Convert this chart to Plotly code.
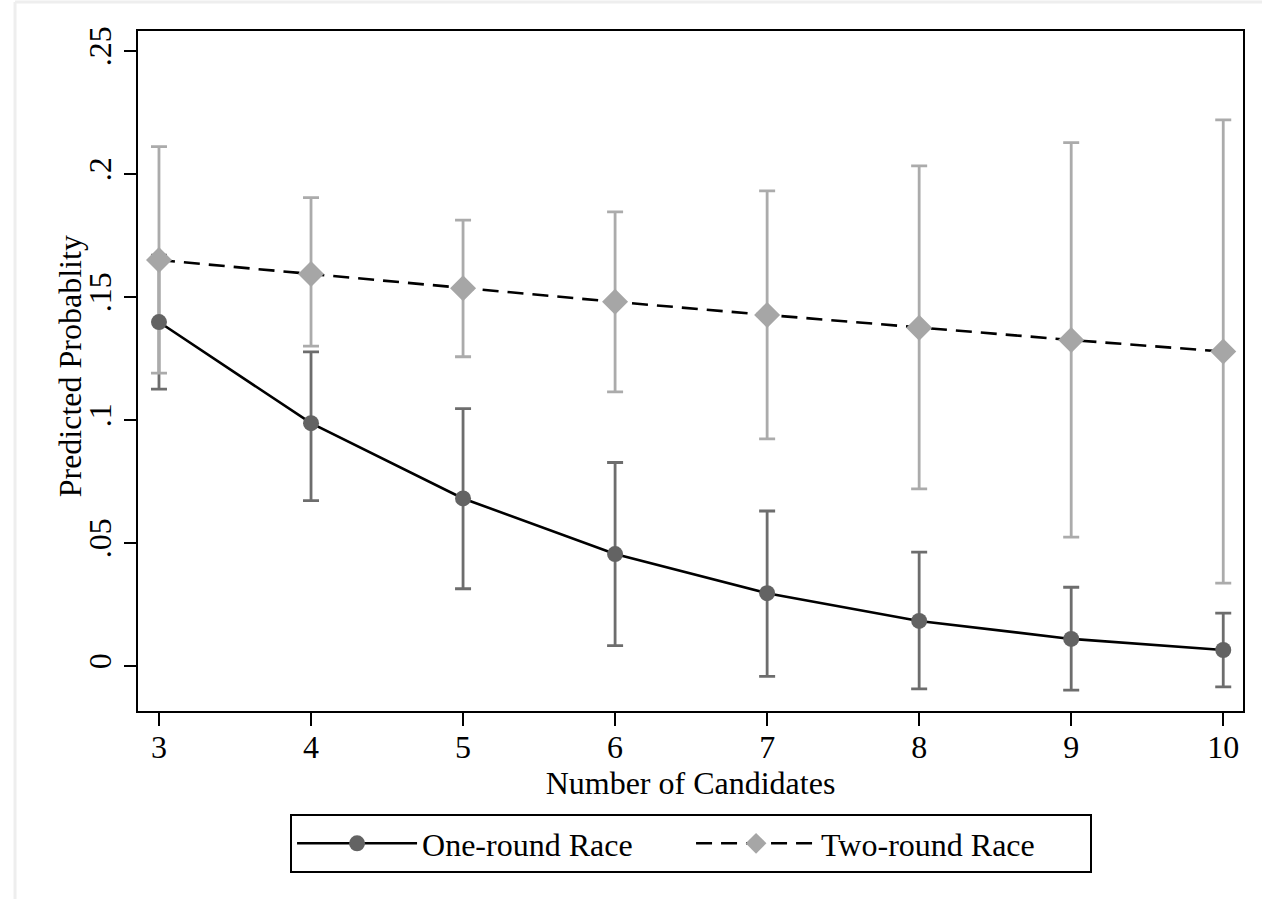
import plotly.graph_objects as go

# ---- data ----
candidates = [3, 4, 5, 6, 7, 8, 9, 10]

one_round = [0.1398, 0.0987, 0.0681, 0.0455, 0.0296, 0.0183, 0.0110, 0.0065]
one_round_lo = [0.1125, 0.0672, 0.0314, 0.0083, -0.0042, -0.0093, -0.0098, -0.0085]
one_round_hi = [0.1670, 0.1277, 0.1046, 0.0827, 0.0630, 0.0463, 0.0320, 0.0215]

two_round = [0.1650, 0.1593, 0.1535, 0.1480, 0.1427, 0.1375, 0.1325, 0.1278]
two_round_lo = [0.1190, 0.1300, 0.1257, 0.1114, 0.0923, 0.0720, 0.0524, 0.0337]
two_round_hi = [0.2111, 0.1904, 0.1812, 0.1846, 0.1931, 0.2033, 0.2127, 0.2220]

y_tickvals = [0, 0.05, 0.1, 0.15, 0.2, 0.25]
y_ticktext = ["0", ".05", ".1", ".15", ".2", ".25"]

x_title = "Number of Candidates"
y_title = "Predicted Probablity"

FONT = "Liberation Serif"
FS = 32
DARK = "#636363"
LIGHT = "#a6a6a6"

def err(vals, lo, hi):
    return dict(type="data", symmetric=False,
                array=[h - v for v, h in zip(vals, hi)],
                arrayminus=[v - l for v, l in zip(vals, lo)])

fig = go.Figure()

# error bars (drawn first)
e1 = err(one_round, one_round_lo, one_round_hi)
e1.update(color="#6d6d6d", thickness=2.8, width=8)
fig.add_trace(go.Scatter(x=candidates, y=one_round, mode="markers",
                         marker=dict(size=1, opacity=0), error_y=e1,
                         showlegend=False, hoverinfo="skip"))
e2 = err(two_round, two_round_lo, two_round_hi)
e2.update(color="#ababab", thickness=2.8, width=8)
fig.add_trace(go.Scatter(x=candidates, y=two_round, mode="markers",
                         marker=dict(size=1, opacity=0), error_y=e2,
                         showlegend=False, hoverinfo="skip"))

# lines with markers
fig.add_trace(go.Scatter(x=candidates, y=one_round, mode="lines+markers",
                         name="One-round Race",
                         line=dict(color="black", width=2.6),
                         marker=dict(symbol="circle", size=16, color=DARK)))
fig.add_trace(go.Scatter(x=candidates, y=two_round, mode="lines+markers",
                         name="Two-round Race",
                         line=dict(color="black", width=2.6, dash="16px,9px"),
                         marker=dict(symbol="diamond", size=20, color=LIGHT)))

fig.update_layout(
    width=1262, height=899,
    margin=dict(l=138, r=19, t=31, b=188),
    paper_bgcolor="white", plot_bgcolor="white",
    font=dict(family=FONT, size=FS, color="black"),
    xaxis=dict(range=[2.862, 10.13], tickvals=candidates,
               showgrid=False, zeroline=False,
               showline=True, linecolor="black", linewidth=2, mirror=True,
               ticks="outside", ticklen=13, tickwidth=2, tickcolor="black",
               ticklabelstandoff=-6,
               tickfont=dict(family=FONT, size=FS),
               title=dict(text=x_title, standoff=4,
                          font=dict(family=FONT, size=FS))),
    yaxis=dict(range=[-0.0183, 0.2581], tickvals=y_tickvals, ticktext=y_ticktext,
               tickangle=-90,
               showgrid=False, zeroline=False,
               showline=True, linecolor="black", linewidth=2, mirror=True,
               ticks="outside", ticklen=12, tickwidth=2, tickcolor="black",
               tickfont=dict(family=FONT, size=FS)),
    legend=dict(orientation="h", x=0.5005, xanchor="center",
                y=-0.1515, yanchor="top",
                bordercolor="black", borderwidth=2,
                itemwidth=120, entrywidth=264,
                font=dict(family=FONT, size=FS)),
    showlegend=True,
)

# y-axis title placed as rotated text
fig.add_annotation(text=y_title, xref="paper", yref="paper",
                   x=-0.0615, y=0.507, xanchor="center", yanchor="middle",
                   textangle=-90, showarrow=False,
                   font=dict(family=FONT, size=FS, color="black"))

# light outer frame of the graph region
fig.add_shape(type="line", xref="paper", yref="paper",
              x0=-0.1113, x1=1.02, y0=1.0426, y1=1.0426,
              line=dict(color="#eeeeee", width=3))
fig.add_shape(type="line", xref="paper", yref="paper",
              x0=-0.1113, x1=-0.1113, y0=1.0426, y1=-0.3,
              line=dict(color="#eeeeee", width=3))

fig.write_html("out.html")
